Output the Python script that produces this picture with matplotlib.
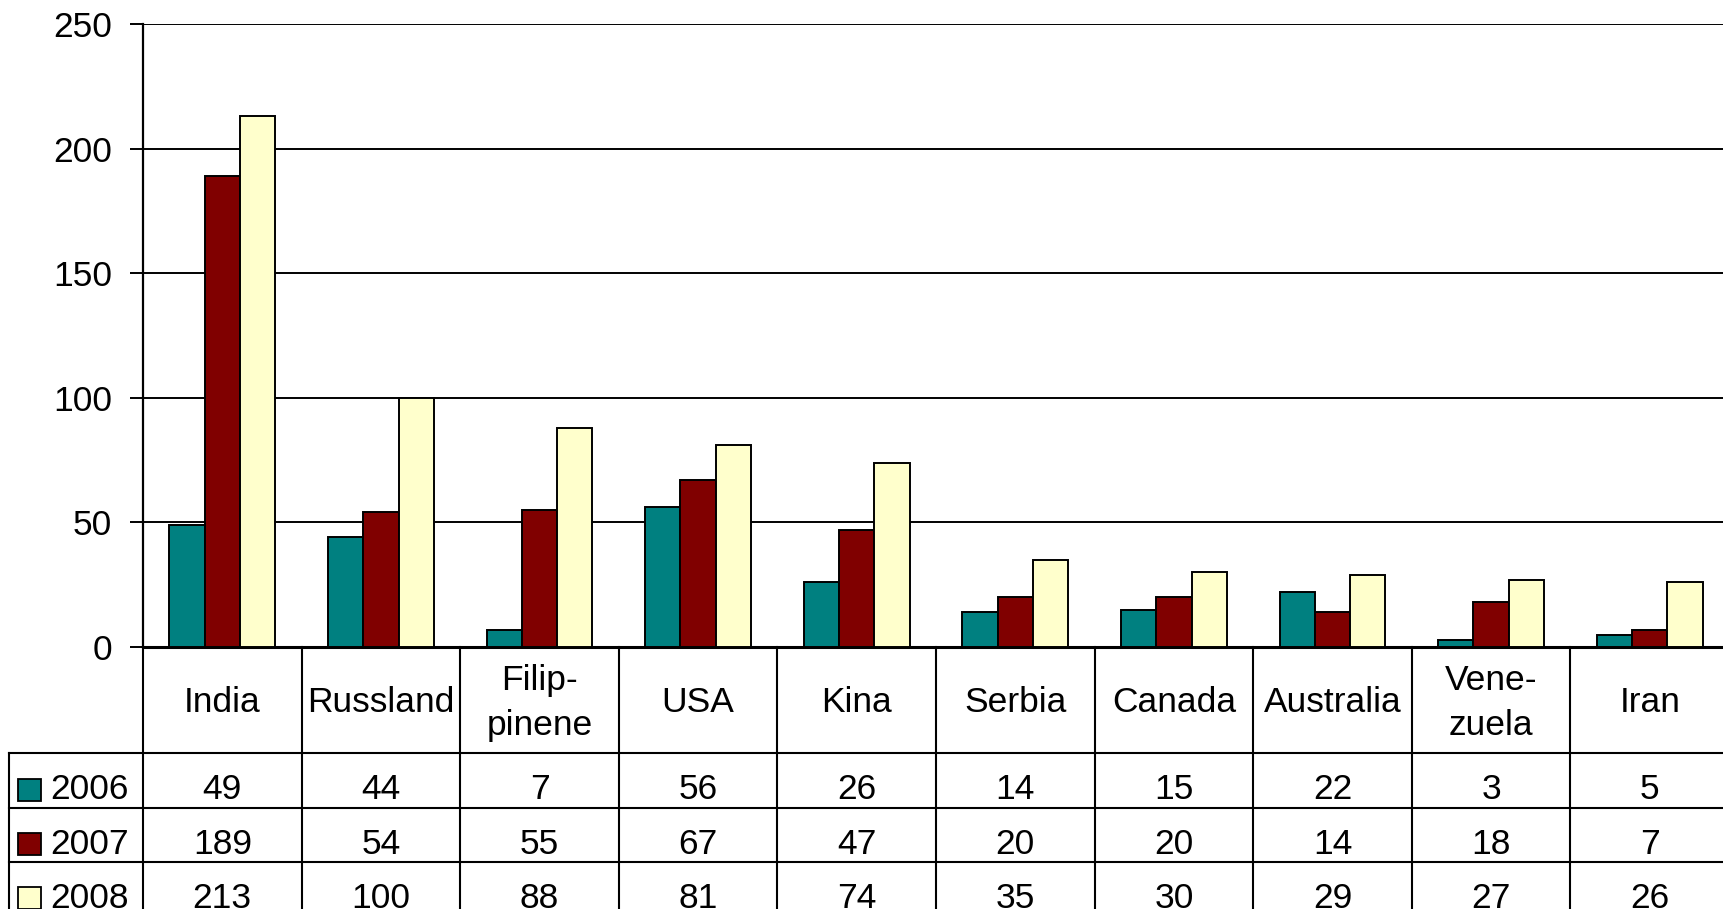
import matplotlib.pyplot as plt
import numpy as np
from matplotlib.transforms import blended_transform_factory
from matplotlib.patches import Rectangle
from matplotlib.lines import Line2D

plt.rcParams['font.family'] = ['Liberation Sans', 'DejaVu Sans']

countries = ['India', 'Russland', 'Filip-\npinene', 'USA', 'Kina', 'Serbia',
             'Canada', 'Australia', 'Vene-\nzuela', 'Iran']
years = ['2006', '2007', '2008']
v2006 = [49, 44, 7, 56, 26, 14, 15, 22, 3, 5]
v2007 = [189, 54, 55, 67, 47, 20, 20, 14, 18, 7]
v2008 = [213, 100, 88, 81, 74, 35, 30, 29, 27, 26]
colors = ['#008080', '#800000', '#FFFFCC']

W, H = 1723, 909
fig = plt.figure(figsize=(W / 100, H / 100), dpi=100)

def fy(y):  # pixel row from top -> figure fraction
    return 1 - y / H

ax_left, ax_right = 143, 1729
ax_top, ax_bot = 24, 647
ax = fig.add_axes([ax_left / W, fy(ax_bot), (ax_right - ax_left) / W, (ax_bot - ax_top) / H])

fs = 25.5
x = np.arange(len(countries))
w = 0.222
for k, vals in enumerate([v2006, v2007, v2008]):
    ax.bar(x + (k - 1) * w, vals, w, color=colors[k], edgecolor='black', linewidth=1.4, zorder=3)

ax.set_xlim(-0.5, len(countries) - 0.5)
ax.set_ylim(0, 250)
ax.set_yticks(np.arange(0, 251, 50))
ax.yaxis.grid(True, color='black', linewidth=1.4)
ax.set_axisbelow(True)
ax.set_xticks([])
for s in ['top', 'right']:
    ax.spines[s].set_visible(False)
ax.spines['left'].set_linewidth(1.6)
ax.spines['bottom'].set_linewidth(2.2)
ax.tick_params(axis='y', length=9.5, width=1.4, pad=13, labelsize=fs)

# data table under the chart
tr = blended_transform_factory(ax.transData, fig.transFigure)
rows = [647, 753, 808, 862, 916]
xl = -0.5 - (ax_left - 9) / 158.6
lk = dict(color='black', linewidth=1.5, clip_on=False)
for b in np.arange(-0.5, len(countries), 1.0):
    fig.add_artist(Line2D([b, b], [fy(rows[0]), fy(rows[-1])], transform=tr, **lk))
for r in rows[1:]:
    fig.add_artist(Line2D([xl, len(countries)], [fy(r), fy(r)], transform=tr, **lk))
fig.add_artist(Line2D([xl, xl], [fy(rows[1]), fy(rows[-1])], transform=tr, **lk))

for i, c in enumerate(countries):
    fig.text(i, fy((rows[0] + rows[1]) / 2 + 3), c, transform=tr, ha='center', va='center',
             fontsize=fs, linespacing=1.47)

for k, vals in enumerate([v2006, v2007, v2008]):
    yc = fy((rows[k + 1] + rows[k + 2]) / 2 + 9)
    for i, v in enumerate(vals):
        fig.text(i, yc, str(v), transform=tr, ha='center', va='center', fontsize=fs)
    fig.add_artist(Rectangle((18 / W, yc - 11 / H), 23 / W, 22 / H, transform=fig.transFigure,
                             facecolor=colors[k], edgecolor='black', linewidth=1.3))
    fig.text(50 / W, yc, years[k], ha='left', va='center', fontsize=fs)

fig.savefig('out.png', dpi=100)
